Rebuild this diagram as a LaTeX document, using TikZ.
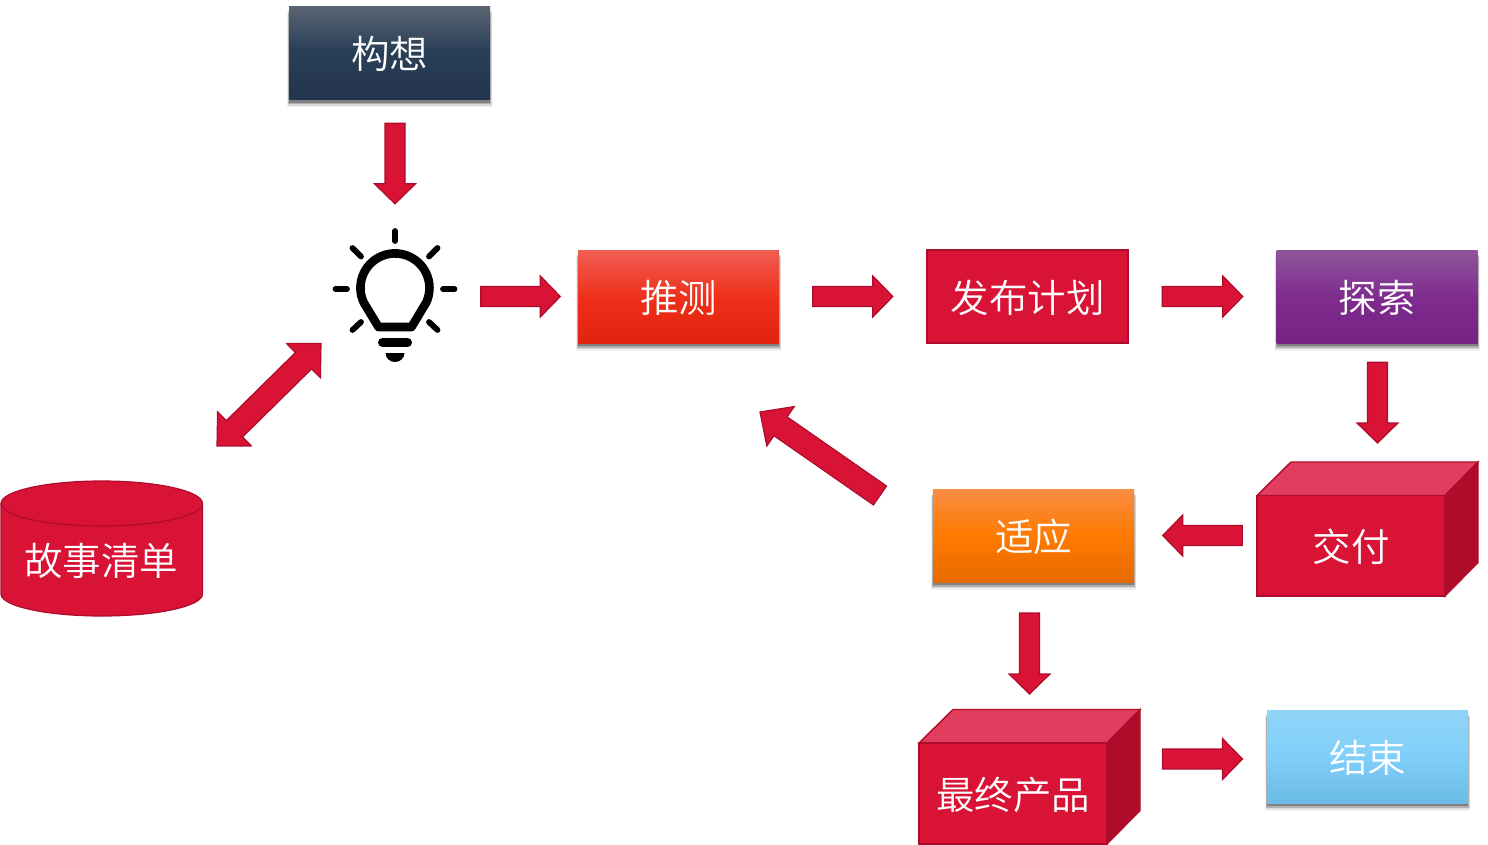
\documentclass[tikz,border=0pt]{standalone}
\usepackage{fontspec}
\usetikzlibrary{calc}
\newfontfamily\cjk{Noto Sans CJK SC}[UprightFont=* DemiLight]
\definecolor{crim}{HTML}{D91336}
\definecolor{crimedge}{HTML}{AE0C2C}
\definecolor{crimtop}{HTML}{E13D5E}
\definecolor{crimside}{HTML}{AE0C2A}
\definecolor{iA}{HTML}{5A6472}\definecolor{iB}{HTML}{2A3F57}\definecolor{iC}{HTML}{24344E}
\definecolor{tA}{HTML}{F05E54}\definecolor{tB}{HTML}{EF2D18}\definecolor{tC}{HTML}{E2240E}
\definecolor{pA}{HTML}{8E559A}\definecolor{pB}{HTML}{7E2A8E}\definecolor{pC}{HTML}{752483}
\definecolor{oA}{HTML}{F98D46}\definecolor{oB}{HTML}{FF7A00}\definecolor{oC}{HTML}{E66B00}
\definecolor{bA}{HTML}{8FD4F6}\definecolor{bB}{HTML}{80CFFA}\definecolor{bC}{HTML}{6ABBE6}
\pgfdeclareverticalshading{ideashade}{100bp}{color(0bp)=(iC);color(25bp)=(iC);color(52bp)=(iB);color(75bp)=(iA);color(100bp)=(iA)}
\pgfdeclareverticalshading{guessshade}{100bp}{color(0bp)=(tC);color(25bp)=(tC);color(48bp)=(tB);color(75bp)=(tA);color(100bp)=(tA)}
\pgfdeclareverticalshading{probeshade}{100bp}{color(0bp)=(pC);color(25bp)=(pC);color(48bp)=(pB);color(75bp)=(pA);color(100bp)=(pA)}
\pgfdeclareverticalshading{adaptshade}{100bp}{color(0bp)=(oC);color(25bp)=(oC);color(50bp)=(oB);color(75bp)=(oA);color(100bp)=(oA)}
\pgfdeclareverticalshading{endshade}{100bp}{color(0bp)=(bC);color(25bp)=(bC);color(50bp)=(bB);color(75bp)=(bA);color(100bp)=(bA)}
\newcommand{\softshadowat}[2]{%
  \fill[black,opacity=.06] (#1-102.5,#2-40) rectangle (#1+102.5,#2+54);
  \fill[black,opacity=.10] (#1-102,#2-41) rectangle (#1+102,#2+52.5);
  \fill[black,opacity=.18] (#1-101.5,#2-42) rectangle (#1+101.5,#2+51);
  \fill[black,opacity=.28] (#1-100.5,#2-42) rectangle (#1+100.5,#2+49.5);
}
\tikzset{
  labeltext/.style={text=white,font=\cjk\fontsize{38.5}{41}\selectfont,inner sep=0pt,text depth=3pt,text height=34pt},
  gradbox/.style={labeltext,shade,shading=#1,minimum width=201pt,minimum height=93pt},
  redbox/.style={labeltext,fill=crim,draw=crimedge,line width=1.4pt},
  bashaft/.store in=\bashaft,bahead/.store in=\bahead,balen/.store in=\balen,
  bashaft=10pt,bahead=20.5pt,balen=20pt,
  redfill/.style={fill=crim,draw=crimedge,line width=1.2pt,line join=miter},
  blockarrow/.style 2 args={redfill,to path={
    let \p1=($(\tikztostart)!#1pt!(\tikztotarget)$),
        \p2=($(\tikztotarget)!#2pt!(\tikztostart)$),
        \p3=($(\p2)!\balen!(\p1)$) in
    ($(\p1)!\bashaft!90:(\p2)$) -- ($(\p3)!\bashaft!-90:(\p1)$) -- ($(\p3)!\bahead!-90:(\p1)$)
    -- (\p2) -- ($(\p3)!\bahead!90:(\p1)$) -- ($(\p3)!\bashaft!90:(\p1)$) -- ($(\p1)!\bashaft!-90:(\p2)$) -- cycle}},
  doublearrow/.style={redfill,to path={
    let \p1=(\tikztostart),\p2=(\tikztotarget),
        \p3=($(\p2)!\balen!(\p1)$),\p4=($(\p1)!\balen!(\p2)$) in
    (\p1) -- ($(\p4)!\bahead!-90:(\p2)$) -- ($(\p4)!\bashaft!-90:(\p2)$)
    -- ($(\p3)!\bashaft!90:(\p1)$) -- ($(\p3)!\bahead!90:(\p1)$) -- (\p2)
    -- ($(\p3)!\bahead!-90:(\p1)$) -- ($(\p3)!\bashaft!-90:(\p1)$)
    -- ($(\p4)!\bashaft!90:(\p2)$) -- ($(\p4)!\bahead!90:(\p2)$) -- cycle}},
  bulbline/.style={draw=black,line width=8.6pt,line join=round},
  rayline/.style={draw=black,line width=5.8pt,line cap=round},
}
\begin{document}
\begin{tikzpicture}[x=1pt,y=-1pt]
\useasboundingbox (0,0) rectangle (1488,845);
% box shadows
\softshadowat{389.5}{53.5}
\softshadowat{678.5}{296.5}
\softshadowat{1377}{296.5}
\softshadowat{1033.5}{535.5}
\softshadowat{1367.5}{756.5}
% boxes
\node[gradbox=ideashade] (idea) at (389.5,53.5) {构想};
\node[gradbox=guessshade] (guess) at (678.5,296.5) {推测};
\node[gradbox=probeshade] (probe) at (1377,296.5) {探索};
\node[gradbox=adaptshade] (adapt) at (1033.5,535.5) {适应};
\node[gradbox=endshade] (finish) at (1367.5,756.5) {结束};
\node[redbox,minimum width=201pt,minimum height=93pt] (plan) at (1027.5,296.5) {发布计划};
% cubes
\filldraw[fill=crimtop,draw=crimedge,line width=1.4pt] (1257,495.5) -- (1291,462) -- (1478,462) -- (1445,495.5) -- cycle;
\filldraw[fill=crimside,draw=crimedge,line width=1.4pt] (1445,495.5) -- (1478,462) -- (1478,562.5) -- (1445,596) -- cycle;
\node[redbox,minimum width=188pt,minimum height=100.5pt] (deliver) at (1351,545.75) {交付};
\coordinate (delivertop) at (1377.5,461);
\filldraw[fill=crimtop,draw=crimedge,line width=1.4pt] (919,743) -- (953,709.5) -- (1140,709.5) -- (1107,743) -- cycle;
\filldraw[fill=crimside,draw=crimedge,line width=1.4pt] (1107,743) -- (1140,709.5) -- (1140,810.5) -- (1107,844) -- cycle;
\node[redbox,minimum width=188pt,minimum height=101pt] (final) at (1013,793.5) {最终产品};
\coordinate (finaltop) at (1029.5,709);
\coordinate (finalright) at (1141,759);
% cylinder
\filldraw[fill=crim,draw=crimedge,line width=1.2pt] (1,503.5) -- (1,594) arc[start angle=180,end angle=0,x radius=100.75,y radius=22] -- (202.5,503.5) arc[start angle=0,end angle=-180,x radius=100.75,y radius=22.5] -- cycle;
\draw[crimedge,line width=1.2pt] (1,503.5) arc[start angle=180,end angle=0,x radius=100.75,y radius=22.5];
\node[labeltext] (story) at (101,560) {故事清单};
% bulb
\node[minimum width=124pt,minimum height=134pt,inner sep=0pt] (bulb) at (395,295) {};
\draw[bulbline] (378.5,327) -- (363.7,302.5) arc[start angle=155,end angle=385,x radius=34.5,y radius=34.5] -- (411.5,327) -- cycle;
\draw[rayline] (395,231) -- (395,241);
\draw[rayline] (335.5,289) -- (347,289);
\draw[rayline] (443,289) -- (454.5,289);
\draw[rayline] (352.5,248) -- (361,256.5);
\draw[rayline] (437.5,248) -- (429,256.5);
\draw[rayline] (352.5,330) -- (361,322);
\draw[rayline] (437.5,330) -- (429,322);
\draw[black,line width=9pt,line cap=round] (382.5,342.5) -- (407.5,342.5);
\fill[black] (385.5,353) -- (404.5,353) arc[start angle=0,end angle=180,x radius=9.5,y radius=9] -- cycle;
% arrows
\draw[blockarrow={23}{24},xshift=.5pt] (idea.south -| bulb.north) to (bulb.north);
\draw[blockarrow={23.5}{17.5},yshift=-1pt] (bulb.east |- guess.west) to (guess.west);
\draw[blockarrow={33.5}{33.5},yshift=-1pt] (guess.east) to (plan.west);
\draw[blockarrow={33.5}{33.5},yshift=-1pt] (plan.east) to (probe.west);
\draw[blockarrow={19}{18}] (probe.south -| delivertop) to (delivertop);
\draw[blockarrow={14}{28.5}] (deliver.west |- adapt.east) to (adapt.east);
\coordinate (adaptdown) at (1029.5,582);
\draw[blockarrow={31}{15}] (adaptdown) to (finaltop);
\coordinate (finishleft) at (1267,759);
\draw[blockarrow={21.5}{24.5}] (finalright) to (finishleft);
\coordinate (adaptback) at (880,495.5);
\coordinate (guessback) at (760,412);
\draw[blockarrow={0}{0},bashaft=11.5pt,bahead=24pt,balen=25pt] (adaptback) to (guessback);
\coordinate (storylink) at (217,446);
\coordinate (bulblink) at (321,343.5);
\draw[doublearrow,bashaft=11.5pt,bahead=24pt,balen=24.5pt] (storylink) to (bulblink);
\end{tikzpicture}
\end{document}
